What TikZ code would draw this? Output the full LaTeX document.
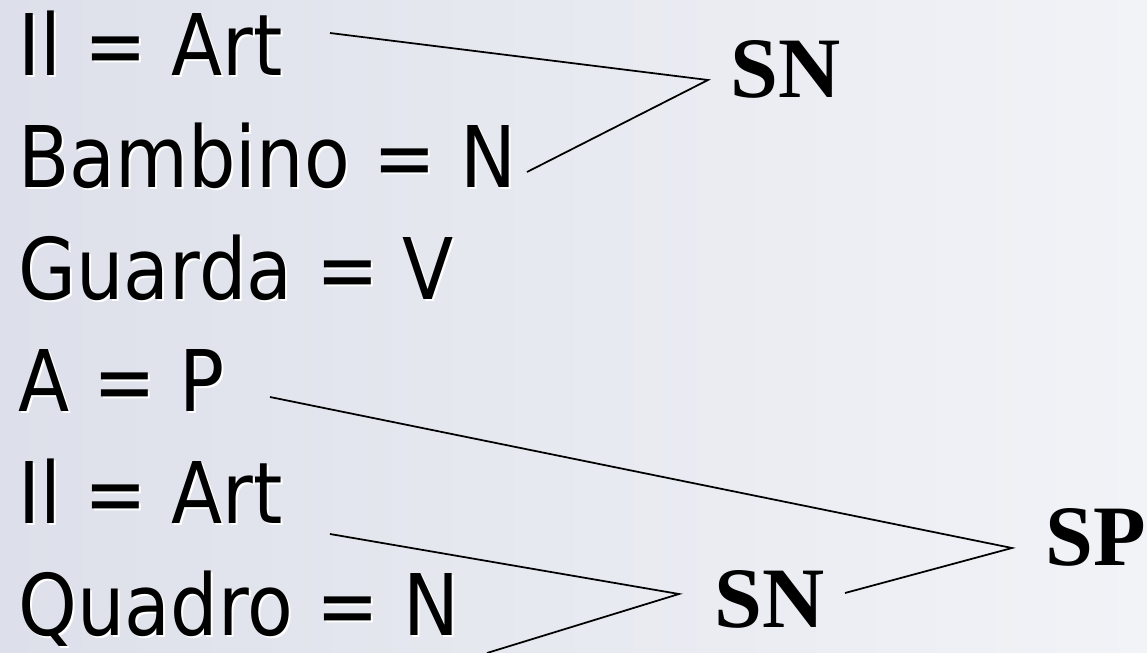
\documentclass[tikz,border=0pt]{standalone}
\usepackage{fontspec}
\setmainfont{DejaVu Sans}[FakeStretch=0.88]
\newfontfamily\catfont{Liberation Serif}
\usetikzlibrary{calc}
\definecolor{slideleft}{RGB}{221,224,234}
\definecolor{slideright}{RGB}{242,243,247}

\begin{document}
\begin{tikzpicture}[
  x=0.02cm, y=-0.02cm,
  word/.style={anchor=base west, inner sep=0pt, font=\fontsize{48.4}{58}\selectfont},
  cat/.style={anchor=base west, inner sep=0pt, font=\catfont\bfseries\fontsize{49}{58}\selectfont},
  link/.style={draw=black, line width=1pt}
]
  \useasboundingbox (0,0) rectangle (1147,653);
  \shade[left color=slideleft, right color=slideright] (0,0) rectangle (1147,653);

  % words of the sentence, with a white shadow
  \foreach \t [count=\i] in {Il = Art, Bambino = N, Guarda = V, A = P, Il = Art, Quadro = N} {
    \pgfmathsetmacro{\yb}{75+112*(\i-1)}
    \node[word, text=white] at (20, \yb+2) {\t};
    \node[word] (w\i) at (18, \yb) {\t};
  }

  % phrase labels
  \node[cat] (sn1) at (730, 97) {SN};
  \node[cat] (sn2) at (714, 627) {SN};
  \node[cat] (sp) at (1045, 565) {SP};

  % branch ends
  \coordinate (a1) at (330, 33);
  \coordinate (b1) at (527, 172);
  \coordinate (v1) at (708, 80);
  \coordinate (a4) at (270, 397);
  \coordinate (b4) at (845, 593);
  \coordinate (v4) at (1012, 548);
  \coordinate (a5) at (330, 534);
  \coordinate (b5) at (487, 653);
  \coordinate (v5) at (679, 594);

  \draw[link] (a1) -- (v1) -- (b1);
  \draw[link] (a4) -- (v4) -- (b4);
  \draw[link] (a5) -- (v5) -- (b5);
\end{tikzpicture}
\end{document}
